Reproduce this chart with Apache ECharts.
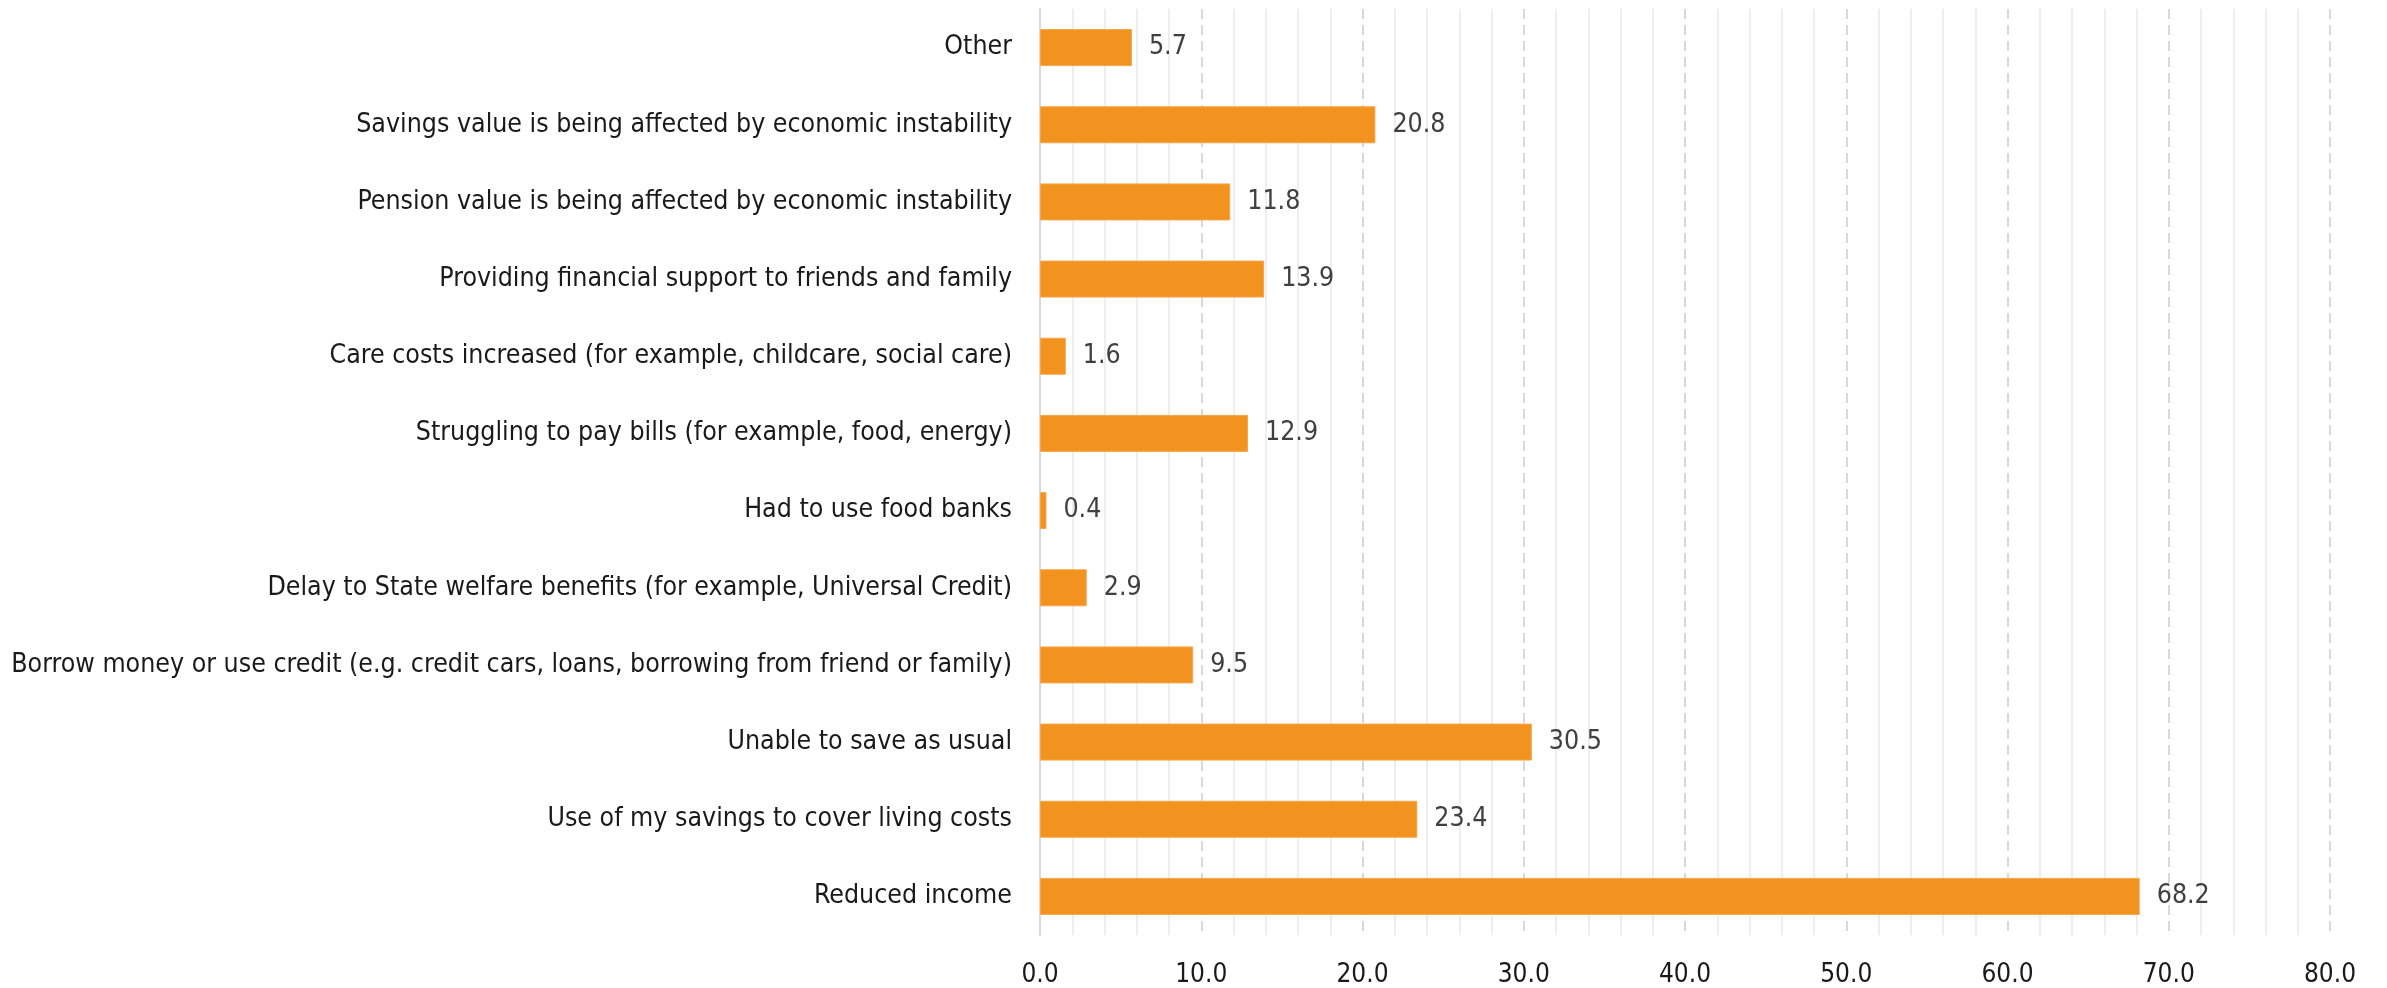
<!DOCTYPE html>
<html>
<head>
<meta charset="utf-8">
<script src="https://cdn.jsdelivr.net/npm/echarts@6/dist/echarts.min.js"></script>
<style>
  html, body { margin: 0; padding: 0; background: #fff; }
  #chart { width: 2387px; height: 988px; }
</style>
</head>
<body>
<div id="chart"></div>
<script>
// categories listed bottom to top (category axis starts at the bottom)
const categories = [
  'Reduced income',
  'Use of my savings to cover living costs',
  'Unable to save as usual',
  'Borrow money or use credit (e.g. credit cars, loans, borrowing from friend or family)',
  'Delay to State welfare benefits (for example, Universal Credit)',
  'Had to use food banks',
  'Struggling to pay bills (for example, food, energy)',
  'Care costs increased (for example, childcare, social care)',
  'Providing financial support to friends and family',
  'Pension value is being affected by economic instability',
  'Savings value is being affected by economic instability',
  'Other'
];
const percentValues = [68.2, 23.4, 30.5, 9.5, 2.9, 0.4, 12.9, 1.6, 13.9, 11.8, 20.8, 5.7];

const axisMin = 0;
const axisMax = 80;
const axisStep = 10;

const labelFont = "'DejaVu Sans Condensed', 'Liberation Sans Narrow', sans-serif";

const getOption = () => {
  return {
    animation: false,
    backgroundColor: '#ffffff',
    grid: {
      left: 1040,
      right: 57,
      top: 9,
      bottom: 53,
      containLabel: false,
      outerBoundsMode: 'none'
    },
    xAxis: {
      type: 'value',
      min: axisMin,
      max: axisMax,
      interval: axisStep,
      axisLine: { show: false },
      axisTick: { show: false },
      axisLabel: {
        margin: 27,
        color: '#1a1a1a',
        fontFamily: labelFont,
        fontSize: 26,
        formatter: v => v.toFixed(1)
      },
      splitLine: {
        show: true,
        lineStyle: { color: '#d9d9d9', width: 2, type: [10, 6] }
      },
      minorTick: { show: false, splitNumber: 5 },
      minorSplitLine: {
        show: true,
        lineStyle: { color: '#eeeeee', width: 2 }
      }
    },
    yAxis: {
      type: 'category',
      data: categories,
      axisLine: { show: true, lineStyle: { color: '#d9d9d9', width: 2 } },
      axisTick: { show: false },
      axisLabel: {
        margin: 28,
        color: '#1a1a1a',
        fontFamily: labelFont,
        fontSize: 26.5
      },
      splitLine: { show: false }
    },
    series: [
      {
        type: 'bar',
        data: percentValues,
        barWidth: 37,
        itemStyle: {
          color: '#F2921F',
          borderColor: '#F5A64A',
          borderWidth: 1
        },
        label: {
          show: true,
          position: 'right',
          distance: 17,
          color: '#404040',
          fontFamily: labelFont,
          fontSize: 26.5,
          formatter: p => p.value.toFixed(1)
        }
      }
    ]
  };
};

const chart = echarts.init(document.getElementById('chart'));
chart.setOption(getOption());
</script>
</body>
</html>
